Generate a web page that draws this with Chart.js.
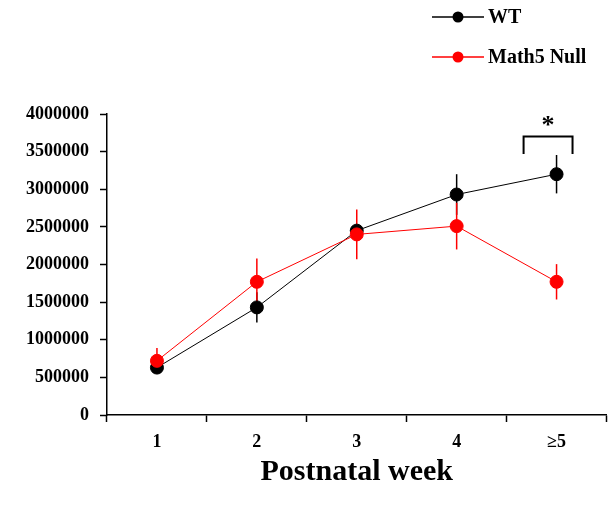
<!DOCTYPE html>
<html>
<head>
<meta charset="utf-8">
<script src="https://cdn.jsdelivr.net/npm/chart.js@4"></script>
<style>
  html, body { margin: 0; padding: 0; background: #fff; }
  #wrap { width: 614px; height: 508px; }
</style>
</head>
<body>
<div id="wrap"><canvas id="weekChart"></canvas></div>
<script>
// postnatal weeks
const weeks = ["1", "2", "3", "4", "\u22655"];
const wtValues = [630000, 1430000, 2450000, 2930000, 3200000];
const wtErrors = [40000, 200000, 60000, 270000, 255000];
const nullValues = [720000, 1770000, 2400000, 2510000, 1770000];
const nullErrors = [170000, 310000, 330000, 310000, 235000];
const yTicks = [0, 500000, 1000000, 1500000, 2000000, 2500000, 3000000, 3500000, 4000000];

const serif = "'Liberation Serif', 'Times New Roman', serif";

// vertical error bars, no caps
const errorBars = {
  id: "errorBars",
  beforeDatasetsDraw(chart) {
    const ctx = chart.ctx;
    const y = chart.scales.y;
    chart.data.datasets.forEach((ds, i) => {
      const meta = chart.getDatasetMeta(i);
      ctx.save();
      ctx.strokeStyle = ds.borderColor;
      ctx.lineWidth = 1.5;
      meta.data.forEach((pt, j) => {
        const v = ds.data[j], e = ds.errors[j];
        ctx.beginPath();
        ctx.moveTo(pt.x, y.getPixelForValue(v - e));
        ctx.lineTo(pt.x, y.getPixelForValue(v + e));
        ctx.stroke();
      });
      ctx.restore();
    });
  }
};

// legend top right + significance bracket
const extras = {
  id: "extras",
  afterDraw(chart) {
    const ctx = chart.ctx;
    ctx.save();
    const rows = [["WT", "#000", 17], ["Math5 Null", "#ff0000", 57]];
    rows.forEach(([label, color, ly]) => {
      ctx.strokeStyle = color;
      ctx.lineWidth = 1.5;
      ctx.beginPath();
      ctx.moveTo(432, ly);
      ctx.lineTo(484, ly);
      ctx.stroke();
      ctx.fillStyle = color;
      ctx.beginPath();
      ctx.arc(458, ly, 5.5, 0, Math.PI * 2);
      ctx.fill();
      ctx.fillStyle = "#000";
      ctx.font = "bold 20px " + serif;
      ctx.textBaseline = "middle";
      ctx.textAlign = "left";
      ctx.fillText(label, 488, ly + 1);
    });

    const x = chart.scales.x, y = chart.scales.y;
    const cw = x.getPixelForValue(1) - x.getPixelForValue(0);
    const cx = x.getPixelForValue(4);
    const x0 = cx - cw * 0.33, x1 = cx + cw * 0.16;
    const yt = y.getPixelForValue(3700000), yb = y.getPixelForValue(3470000);
    ctx.strokeStyle = "#000";
    ctx.lineWidth = 2;
    ctx.beginPath();
    ctx.moveTo(x0, yb);
    ctx.lineTo(x0, yt);
    ctx.lineTo(x1, yt);
    ctx.lineTo(x1, yb);
    ctx.stroke();
    ctx.fillStyle = "#000";
    ctx.font = "bold 26px " + serif;
    ctx.textAlign = "center";
    ctx.textBaseline = "middle";
    ctx.fillText("*", (x0 + x1) / 2, yt - 10);
    ctx.restore();
  }
};

new Chart(document.getElementById("weekChart"), {
  type: "line",
  data: {
    labels: weeks,
    datasets: [
      {
        label: "WT",
        data: wtValues,
        errors: wtErrors,
        borderColor: "#000",
        backgroundColor: "#000",
        borderWidth: 1,
        pointRadius: 6.5,
        pointHoverRadius: 6.5,
        order: 1
      },
      {
        label: "Math5 Null",
        data: nullValues,
        errors: nullErrors,
        borderColor: "#ff0000",
        backgroundColor: "#ff0000",
        borderWidth: 1,
        pointRadius: 6.5,
        pointHoverRadius: 6.5,
        order: 0
      }
    ]
  },
  options: {
    responsive: true,
    maintainAspectRatio: false,
    animation: false,
    layout: { padding: { top: 114, right: 7, bottom: 27, left: 0 } },
    plugins: {
      legend: { display: false },
      tooltip: { enabled: false }
    },
    scales: {
      x: {
        offset: true,
        border: { color: "#000", width: 1.5 },
        grid: { offset: true, drawOnChartArea: false, tickLength: 7, tickColor: "#000", tickWidth: 1.5 },
        ticks: { color: "#000", padding: 10, font: { family: serif, size: 18, weight: "bold" } },
        title: {
          display: true,
          text: "Postnatal week",
          color: "#000",
          padding: { top: 0, bottom: 0 },
          font: { family: serif, size: 30, weight: "bold", lineHeight: 0.58 }
        }
      },
      y: {
        min: 0,
        max: 4000000,
        afterBuildTicks(scale) { scale.ticks = yTicks.map(v => ({ value: v })); },
        afterFit(scale) { scale.width = 107; },
        border: { color: "#000", width: 1.5 },
        grid: { drawOnChartArea: false, tickLength: 7, tickColor: "#000", tickWidth: 1.5 },
        ticks: {
          color: "#000",
          padding: 11,
          font: { family: serif, size: 18, weight: "bold" },
          callback: v => String(v)
        }
      }
    }
  },
  plugins: [errorBars, extras]
});
</script>
</body>
</html>
